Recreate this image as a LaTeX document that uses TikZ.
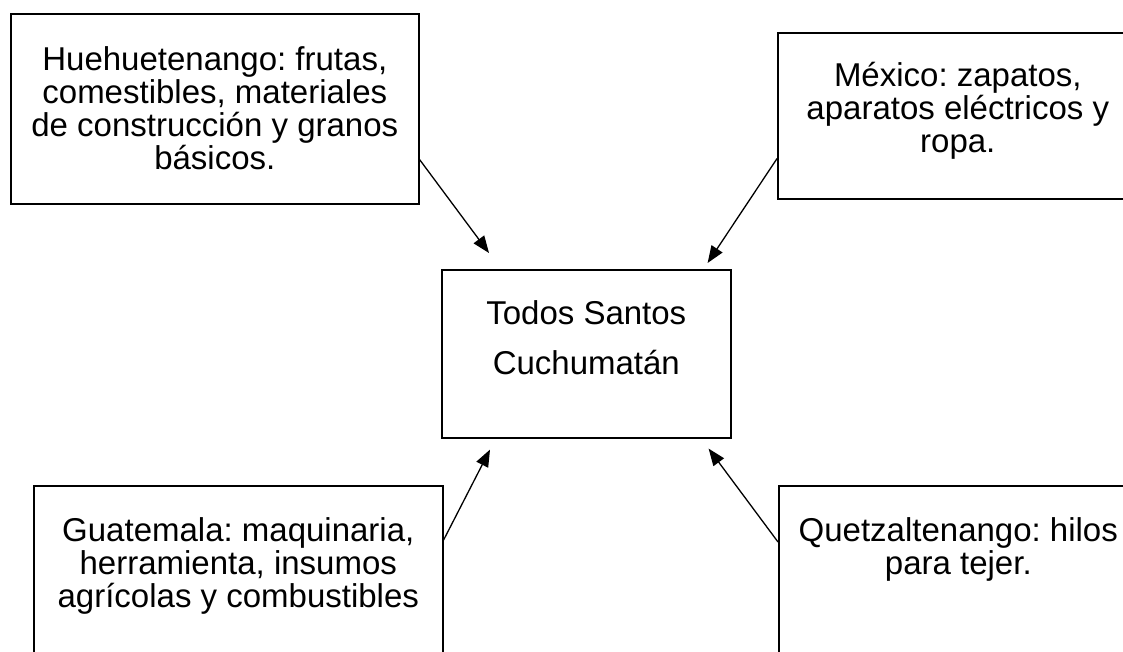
\documentclass[tikz,border=0pt]{standalone}
\usepackage{fontspec}
\setmainfont{Liberation Sans}
\usetikzlibrary{positioning,arrows.meta}

\tikzset{
  box/.style={draw, line width=1.6pt, inner sep=0pt, anchor=north west},
  txt/.style={inner sep=0pt, align=center, font=\fontsize{33}{33}\selectfont\frenchspacing},
  arr/.style={line width=1.3pt, -{Triangle[length=17pt,width=13pt]}}
}

\begin{document}
\begin{tikzpicture}[x=1pt,y=1pt]
       \useasboundingbox (0,0) rectangle (1123,652);
       \clip (0,0) rectangle (1123,652);
       % boxes
       \node[box, minimum width=408pt, minimum height=190pt] (hue) at (10,639) {};
       \node[box, minimum width=360pt, minimum height=166pt] (mex) at (777,620) {};
       \node[box, minimum width=289pt, minimum height=168pt] (todos) at (441,383) {};
       \node[box, minimum width=409pt, minimum height=210pt] (gua) at (33,167) {};
       \node[box, minimum width=359pt, minimum height=210pt] (que) at (778,167) {};
       % texts
       \node[txt, below=33.5pt of hue.north] (hueText) {Huehuetenango: frutas,\\comestibles, materiales\\de construcción y granos\\básicos.};
       \node[txt, below=30pt of mex.north] (mexText) {México: zapatos,\\aparatos eléctricos y\\ropa.};
       \node[txt, below=31pt of todos.north, font=\fontsize{33}{50}\selectfont] (todosText) {Todos Santos\\Cuchumatán};
       \node[txt, below=32pt of gua.north] (guaText) {Guatemala: maquinaria,\\herramienta, insumos\\agrícolas y combustibles};
       \node[txt, below=32pt of que.north] (queText) {Quetzaltenango: hilos\\para tejer.};
       % arrows
       \coordinate (hueOut) at ([yshift=45pt]hue.south east);
       \coordinate (mexOut) at ([yshift=41pt]mex.south west);
       \coordinate (guaOut) at ([yshift=-55pt]gua.north east);
       \coordinate (queOut) at ([yshift=-57pt]que.north west);
       \coordinate (hueIn) at ([shift={(48pt,16pt)}]todos.north west);
       \coordinate (mexIn) at ([shift={(-24pt,6pt)}]todos.north east);
       \coordinate (guaIn) at ([shift={(49pt,-11pt)}]todos.south west);
       \coordinate (queIn) at ([shift={(-23pt,-10pt)}]todos.south east);
       \draw[arr] (hueOut) -- (hueIn);
       \draw[arr] (mexOut) -- (mexIn);
       \draw[arr] (guaOut) -- (guaIn);
       \draw[arr] (queOut) -- (queIn);
    \end{tikzpicture}
\end{document}
